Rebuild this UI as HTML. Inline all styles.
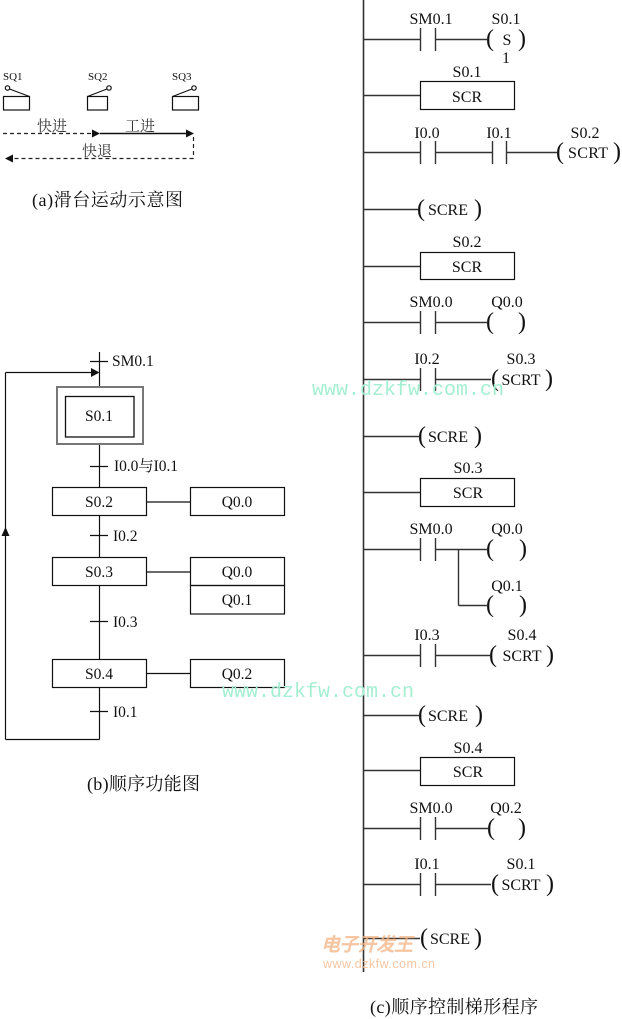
<!DOCTYPE html>
<html><head><meta charset="utf-8"><style>
html,body{margin:0;padding:0;background:#fff;}
svg{display:block;}
text{font-family:"Liberation Serif","Noto Serif CJK SC",serif;fill:#111;}
.s{font-size:16px;}
.p{font-size:24px;}
.l{stroke:#333;stroke-width:1.4;fill:none;}
.b{stroke:#111;stroke-width:1.2;fill:none;}
</style></head><body>
<svg width="622" height="1019" viewBox="0 0 622 1019" xmlns="http://www.w3.org/2000/svg">
<!-- ===== (a) ===== -->
<g font-size="11">
<text x="3" y="80" style="font-size:11px">SQ1</text>
<text x="88" y="80" style="font-size:11px">SQ2</text>
<text x="172" y="80" style="font-size:11px">SQ3</text>
</g>
<g class="b">
<rect x="3.5" y="96.5" width="26" height="13.5"/>
<circle cx="7.5" cy="88" r="2.2"/>
<line x1="9.5" y1="89" x2="29.5" y2="96.5"/>
<rect x="87.5" y="96.5" width="20" height="13.5"/>
<circle cx="109" cy="88" r="2.2"/>
<line x1="107" y1="89" x2="87.5" y2="96.5"/>
<rect x="172.5" y="96.5" width="26" height="13.5"/>
<circle cx="194" cy="88" r="2.2"/>
<line x1="192" y1="89" x2="172.5" y2="96.5"/>
</g>
<text x="37" y="131" style="font-size:15px;fill:#333" textLength="30">快进</text>
<text x="125" y="131" style="font-size:15px;fill:#333" textLength="30">工进</text>
<text x="82" y="156" style="font-size:15px;fill:#333" textLength="30">快退</text>
<line x1="3" y1="133.5" x2="93" y2="133.5" stroke="#222" stroke-width="1.2" stroke-dasharray="4,3"/>
<polygon points="92,129.5 100,133.5 92,137.5" fill="#111"/>
<line x1="100" y1="133.5" x2="187" y2="133.5" stroke="#111" stroke-width="1.4"/>
<polygon points="186,129.5 194,133.5 186,137.5" fill="#111"/>
<line x1="193.5" y1="137" x2="193.5" y2="158.5" stroke="#222" stroke-width="1.2" stroke-dasharray="4,3"/>
<line x1="193.5" y1="158.5" x2="12" y2="158.5" stroke="#222" stroke-width="1.2" stroke-dasharray="4,3"/>
<polygon points="13,154.5 5,158.5 13,162.5" fill="#111"/>
<text x="32" y="206" style="font-size:18px" textLength="151">(a)滑台运动示意图</text>

<!-- ===== (b) ===== -->
<g class="b">
<line x1="99.5" y1="352" x2="99.5" y2="387"/>
<line x1="99.5" y1="444" x2="99.5" y2="487"/>
<line x1="99.5" y1="515" x2="99.5" y2="557"/>
<line x1="99.5" y1="585" x2="99.5" y2="659"/>
<line x1="99.5" y1="687" x2="99.5" y2="739.5"/>
<line x1="99.5" y1="739.5" x2="5.5" y2="739.5"/>
<line x1="5.5" y1="739.5" x2="5.5" y2="372.5"/>
<line x1="5.5" y1="372.5" x2="92" y2="372.5"/>
<line x1="90" y1="361.5" x2="108" y2="361.5"/>
<line x1="90" y1="466.5" x2="108" y2="466.5"/>
<line x1="90" y1="535.5" x2="108" y2="535.5"/>
<line x1="90" y1="621.5" x2="108" y2="621.5"/>
<line x1="90" y1="711.5" x2="108" y2="711.5"/>
</g>
<polygon points="91,368 99.5,372.5 91,377" fill="#111"/>
<polygon points="1.5,536 5.5,527 9.5,536" fill="#111"/>
<rect x="57" y="387" width="86" height="57" fill="none" stroke="#777" stroke-width="2"/>
<rect x="65.5" y="396.5" width="68.5" height="40.5" fill="none" stroke="#111" stroke-width="1.3"/>
<text x="99" y="421" style="font-size:15.5px" text-anchor="middle">S0.1</text>
<text x="112" y="366" style="font-size:15.5px">SM0.1</text>
<text x="114" y="471" style="font-size:15.5px" textLength="64">I0.0与I0.1</text>
<text x="113" y="541" style="font-size:15.5px">I0.2</text>
<text x="113" y="627" style="font-size:15.5px">I0.3</text>
<text x="113" y="717" style="font-size:15.5px">I0.1</text>
<g class="b">
<rect x="52.5" y="487.5" width="94" height="28"/>
<rect x="190.5" y="487.5" width="94" height="28"/>
<line x1="146.5" y1="502" x2="190.5" y2="502"/>
<rect x="52.5" y="557.5" width="94" height="28"/>
<rect x="190.5" y="557.5" width="94" height="28"/>
<rect x="190.5" y="585.5" width="94" height="28.5"/>
<line x1="146.5" y1="572" x2="190.5" y2="572"/>
<rect x="52.5" y="659.5" width="94" height="28"/>
<rect x="190.5" y="659.5" width="94" height="28"/>
<line x1="146.5" y1="673.5" x2="190.5" y2="673.5"/>
</g>
<g style="font-size:15.5px" text-anchor="middle">
<text x="99" y="507" style="font-size:15.5px">S0.2</text>
<text x="237" y="507" style="font-size:15.5px">Q0.0</text>
<text x="99" y="577" style="font-size:15.5px">S0.3</text>
<text x="237" y="577" style="font-size:15.5px">Q0.0</text>
<text x="237" y="605" style="font-size:15.5px">Q0.1</text>
<text x="99" y="679" style="font-size:15.5px">S0.4</text>
<text x="237" y="679" style="font-size:15.5px">Q0.2</text>
</g>
<text x="87" y="790" style="font-size:18px" textLength="113">(b)顺序功能图</text>

<!-- ===== (c) ladder ===== -->
<line x1="363.5" y1="0" x2="363.5" y2="972" stroke="#333" stroke-width="1.6"/>
<g class="l">
<!-- R1 -->
<line x1="363" y1="39.5" x2="420.5" y2="39.5"/>
<line x1="420.5" y1="28" x2="420.5" y2="51"/><line x1="435.5" y1="28" x2="435.5" y2="51"/>
<line x1="435.5" y1="39.5" x2="487" y2="39.5"/>
<!-- R2 -->
<line x1="363" y1="95.5" x2="420.5" y2="95.5"/>
<rect x="420.5" y="81.5" width="94" height="28" stroke="#111" stroke-width="1.2"/>
<!-- R3 -->
<line x1="363" y1="152.5" x2="420.5" y2="152.5"/>
<line x1="420.5" y1="141" x2="420.5" y2="164"/><line x1="435.5" y1="141" x2="435.5" y2="164"/>
<line x1="435.5" y1="152.5" x2="492.5" y2="152.5"/>
<line x1="492.5" y1="141" x2="492.5" y2="164"/><line x1="506.5" y1="141" x2="506.5" y2="164"/>
<line x1="506.5" y1="152.5" x2="557" y2="152.5"/>
<!-- R4 -->
<line x1="363" y1="209.5" x2="418" y2="209.5"/>
<!-- R5 -->
<line x1="363" y1="266.5" x2="420.5" y2="266.5"/>
<rect x="420.5" y="252.5" width="94" height="27" stroke="#111" stroke-width="1.2"/>
<!-- R6 -->
<line x1="363" y1="322.5" x2="420.5" y2="322.5"/>
<line x1="420.5" y1="311" x2="420.5" y2="334"/><line x1="435.5" y1="311" x2="435.5" y2="334"/>
<line x1="435.5" y1="322.5" x2="487" y2="322.5"/>
<!-- R7 -->
<line x1="363" y1="379.5" x2="420.5" y2="379.5"/>
<line x1="420.5" y1="368" x2="420.5" y2="391"/><line x1="435.5" y1="368" x2="435.5" y2="391"/>
<line x1="435.5" y1="379.5" x2="491" y2="379.5"/>
<!-- R8 -->
<line x1="363" y1="436.5" x2="419" y2="436.5"/>
<!-- R9 -->
<line x1="363" y1="492.5" x2="420.5" y2="492.5"/>
<rect x="420.5" y="478.5" width="94" height="28" stroke="#111" stroke-width="1.2"/>
<!-- R10 -->
<line x1="363" y1="549.5" x2="420.5" y2="549.5"/>
<line x1="420.5" y1="538" x2="420.5" y2="561"/><line x1="435.5" y1="538" x2="435.5" y2="561"/>
<line x1="435.5" y1="549.5" x2="487" y2="549.5"/>
<line x1="458.5" y1="549.5" x2="458.5" y2="605.5"/>
<line x1="458.5" y1="605.5" x2="487" y2="605.5"/>
<!-- R11 -->
<line x1="363" y1="655.5" x2="420.5" y2="655.5"/>
<line x1="420.5" y1="644" x2="420.5" y2="667"/><line x1="435.5" y1="644" x2="435.5" y2="667"/>
<line x1="435.5" y1="655.5" x2="490" y2="655.5"/>
<!-- R12 -->
<line x1="363" y1="715.5" x2="419" y2="715.5"/>
<!-- R13 -->
<line x1="363" y1="770.5" x2="420.5" y2="770.5"/>
<rect x="420.5" y="757.5" width="94" height="28" stroke="#111" stroke-width="1.2"/>
<!-- R14 -->
<line x1="363" y1="828.5" x2="420.5" y2="828.5"/>
<line x1="420.5" y1="817" x2="420.5" y2="840"/><line x1="435.5" y1="817" x2="435.5" y2="840"/>
<line x1="435.5" y1="828.5" x2="488" y2="828.5"/>
<!-- R15 -->
<line x1="363" y1="884.5" x2="420.5" y2="884.5"/>
<line x1="420.5" y1="873" x2="420.5" y2="896"/><line x1="435.5" y1="873" x2="435.5" y2="896"/>
<line x1="435.5" y1="884.5" x2="491" y2="884.5"/>
<!-- R16 -->
<line x1="363" y1="938.5" x2="420" y2="938.5"/>
</g>

<g text-anchor="middle">
<!-- R1 -->
<text class="s" x="431" y="24">SM0.1</text>
<text class="s" x="506" y="24">S0.1</text>
<text class="p" x="490" y="46">(</text>
<text class="s" x="507" y="45">S</text>
<text class="p" x="522" y="46">)</text>
<text class="s" x="506" y="63">1</text>
<!-- R2 -->
<text class="s" x="467" y="77">S0.1</text>
<text class="s" x="467" y="102">SCR</text>
<!-- R3 -->
<text class="s" x="427" y="138">I0.0</text>
<text class="s" x="499" y="138">I0.1</text>
<text class="s" x="585" y="138">S0.2</text>
<text class="p" x="560" y="159">(</text>
<text class="s" x="588" y="158" textLength="40">SCRT</text>
<text class="p" x="617" y="159">)</text>
<!-- R4 -->
<text class="p" x="421" y="216">(</text>
<text class="s" x="448" y="215" textLength="40">SCRE</text>
<text class="p" x="478" y="216">)</text>
<!-- R5 -->
<text class="s" x="467" y="247">S0.2</text>
<text class="s" x="467" y="272">SCR</text>
<!-- R6 -->
<text class="s" x="431" y="307">SM0.0</text>
<text class="s" x="507" y="307">Q0.0</text>
<text class="p" x="490" y="329">(</text>
<text class="p" x="522" y="329">)</text>
<!-- R7 -->
<text class="s" x="427" y="364">I0.2</text>
<text class="s" x="521" y="364">S0.3</text>
<text class="p" x="495" y="386">(</text>
<text class="s" x="521" y="385" textLength="39">SCRT</text>
<text class="p" x="549" y="386">)</text>
<!-- R8 -->
<text class="p" x="422" y="443">(</text>
<text class="s" x="448" y="442" textLength="40">SCRE</text>
<text class="p" x="478" y="443">)</text>
<!-- R9 -->
<text class="s" x="468" y="473">S0.3</text>
<text class="s" x="468" y="498">SCR</text>
<!-- R10 -->
<text class="s" x="431" y="534">SM0.0</text>
<text class="s" x="507" y="534">Q0.0</text>
<text class="p" x="490" y="556">(</text>
<text class="p" x="523" y="556">)</text>
<text class="s" x="507" y="591">Q0.1</text>
<text class="p" x="490" y="612">(</text>
<text class="p" x="523" y="612">)</text>
<!-- R11 -->
<text class="s" x="427" y="640">I0.3</text>
<text class="s" x="522" y="640">S0.4</text>
<text class="p" x="493" y="662">(</text>
<text class="s" x="522" y="661" textLength="39">SCRT</text>
<text class="p" x="550" y="662">)</text>
<!-- R12 -->
<text class="p" x="422" y="722">(</text>
<text class="s" x="448" y="721" textLength="40">SCRE</text>
<text class="p" x="479" y="722">)</text>
<!-- R13 -->
<text class="s" x="468" y="753">S0.4</text>
<text class="s" x="468" y="777">SCR</text>
<!-- R14 -->
<text class="s" x="431" y="813">SM0.0</text>
<text class="s" x="506" y="813">Q0.2</text>
<text class="p" x="491" y="835">(</text>
<text class="p" x="522" y="835">)</text>
<!-- R15 -->
<text class="s" x="427" y="869">I0.1</text>
<text class="s" x="521" y="869">S0.1</text>
<text class="p" x="495" y="891">(</text>
<text class="s" x="521" y="890" textLength="39">SCRT</text>
<text class="p" x="550" y="891">)</text>
<!-- R16 -->
<text class="p" x="424" y="945">(</text>
<text class="s" x="450" y="944" textLength="40">SCRE</text>
<text class="p" x="478" y="945">)</text>
</g>
<text x="370" y="1013" style="font-size:18px" textLength="168">(c)顺序控制梯形程序</text>

<!-- watermarks -->
<text x="312" y="395" style="font-family:'Liberation Mono',monospace;font-size:20px;fill:#a4efd2" textLength="192">www.dzkfw.com.cn</text>
<text x="222" y="697" style="font-family:'Liberation Mono',monospace;font-size:20px;fill:#a4efd2" textLength="192">www.dzkfw.com.cn</text>
<g opacity="0.75">
<text x="321" y="951" style="font-family:'Noto Sans CJK SC',sans-serif;font-size:19px;font-weight:bold;font-style:italic;fill:#f4b384" textLength="92">电子开发王</text>
<text x="323" y="968" style="font-family:'Liberation Sans',sans-serif;font-size:12.5px;fill:#f4b384" textLength="112">www.dzkfw.com.cn</text>
</g>
</svg>
</body></html>
